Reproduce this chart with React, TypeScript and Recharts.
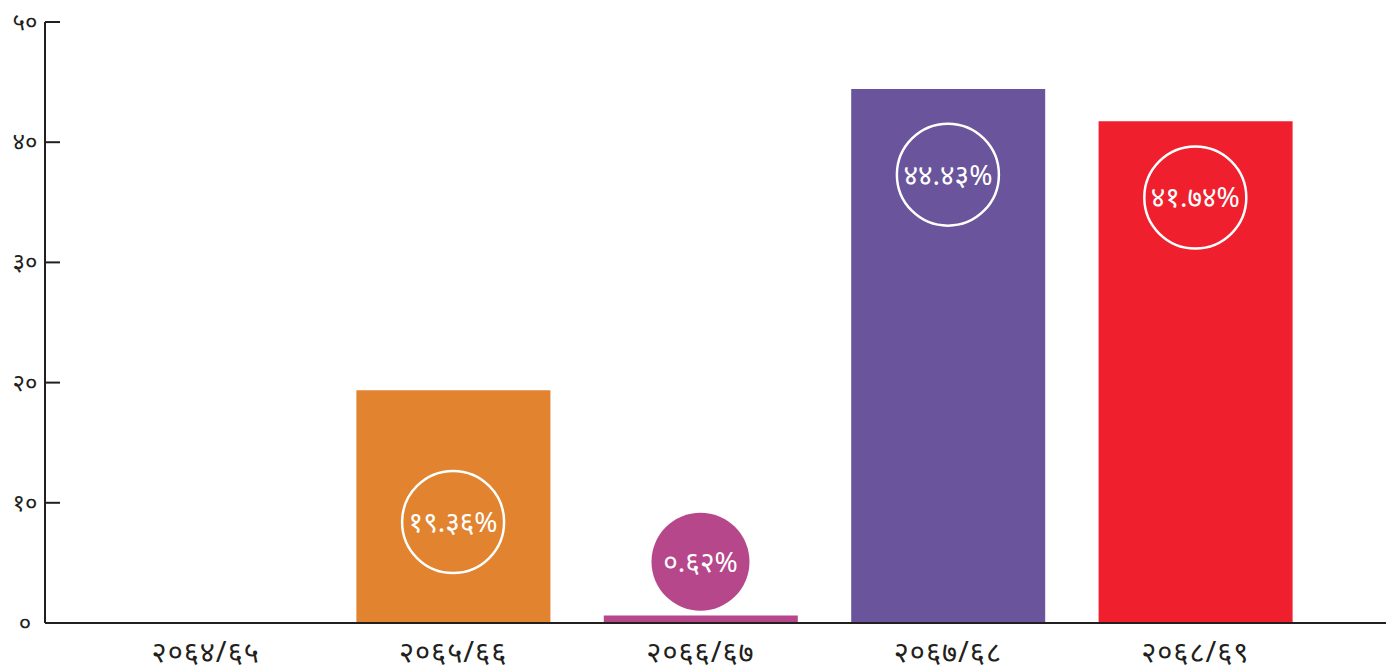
import React from 'react';
import { BarChart, Bar, XAxis, YAxis, Cell, ReferenceDot } from 'recharts';

// fiscal years and share (%) for each
const years = ['२०६४/६५', '२०६५/६६', '२०६६/६७', '२०६७/६८', '२०६८/६९'];
const shares = [0, 19.36, 0.62, 44.43, 41.74];
const barColors = ['#e1832f', '#e1832f', '#b5478a', '#6a549b', '#ef1f2e'];
// level (in % units) where each round badge sits
const badgeLevel = [null, 8.4, 5.1, 37.3, 35.4];
const yTicks = [0, 10, 20, 30, 40, 50];

const INK = '#231f20';
const FONT = '"Noto Sans", "DejaVu Sans", sans-serif';

const toNepali = (s: string) => s.replace(/[0-9]/g, (d) => '०१२३४५६७८९'[+d]);

const data = years.map((year, i) => ({ year, share: shares[i] }));

const YTick = ({ x, y, payload }: any) => (
  <g>
    <line x1={x} y1={y} x2={x + 15} y2={y} stroke={INK} strokeWidth={2} />
    <text x={x - 20} y={y} dy={8} textAnchor="middle" fontSize={24} fill={INK} fontFamily={FONT}>
      {toNepali(String(payload.value))}
    </text>
  </g>
);

const XTick = ({ x, y, payload }: any) => (
  <text x={x} y={y + 37} textAnchor="middle" fontSize={29} letterSpacing={1} fill={INK} fontFamily={FONT}>
    {payload.value}
  </text>
);

const Badge = ({ cx, cy, text, color, filled }: any) => (
  <g>
    <circle
      cx={cx}
      cy={cy}
      r={filled ? 49 : 51}
      fill={filled ? color : 'none'}
      stroke={filled ? 'none' : '#ffffff'}
      strokeWidth={2.5}
    />
    <text x={cx} y={cy} dy={10} textAnchor="middle" fontSize={28} fill="#ffffff" fontFamily={FONT}>
      {text}
    </text>
  </g>
);

export default function App() {
  return (
    <div style={{ position: 'absolute', left: 0, top: 0, background: '#ffffff' }}>
      <BarChart width={1386} height={672} data={data} margin={{ top: 22, right: 0, bottom: 0, left: 0 }}>
        <XAxis
          dataKey="year"
          height={49}
          padding={{ left: 37, right: 67 }}
          tickSize={0}
          tickLine={false}
          axisLine={{ stroke: INK, strokeWidth: 2 }}
          tick={<XTick />}
          interval={0}
        />
        <YAxis
          width={45}
          domain={[0, 50]}
          ticks={yTicks}
          tickSize={0}
          tickMargin={0}
          tickLine={false}
          axisLine={{ stroke: INK, strokeWidth: 2 }}
          tick={<YTick />}
          interval={0}
        />
        <Bar dataKey="share" barSize={194} isAnimationActive={false}>
          {data.map((d, i) => (
            <Cell key={d.year} fill={barColors[i]} />
          ))}
        </Bar>
        {data.map((d, i) =>
          badgeLevel[i] == null ? null : (
            <ReferenceDot
              key={d.year}
              x={d.year}
              y={badgeLevel[i] as number}
              r={51}
              ifOverflow="visible"
              shape={(p: any) => (
                <Badge
                  cx={p.cx}
                  cy={p.cy}
                  text={toNepali(d.share.toFixed(2)) + '%'}
                  color={barColors[i]}
                  filled={d.share < (badgeLevel[i] as number)}
                />
              )}
            />
          )
        )}
      </BarChart>
    </div>
  );
}
